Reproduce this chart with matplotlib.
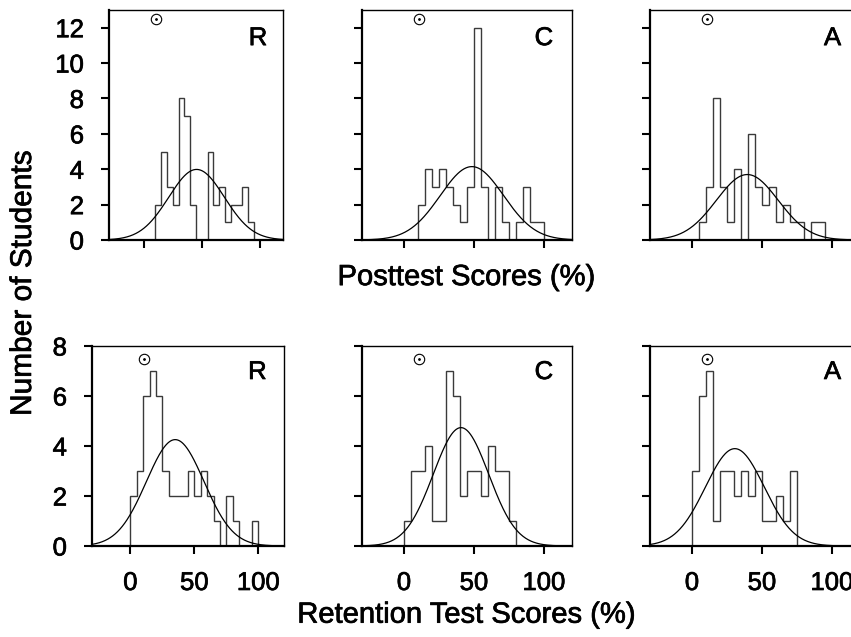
import numpy as np
import matplotlib
matplotlib.use("Agg")
import matplotlib.pyplot as plt
import matplotlib.patheffects as pe

plt.rcParams['font.family'] = ['Liberation Sans', 'DejaVu Sans']

# bin width of the score histograms (percent)
BIN_W = 5
groups = ['R', 'C', 'A']

# posttest scores: first bin edge and counts per 5% bin
post_start = [10, 10, 5]
post_counts = [
    [2, 5, 3, 2, 8, 7, 2, 0, 0, 5, 2, 3, 1, 2, 2, 3, 1],
    [2, 4, 3, 4, 3, 2, 1, 3, 12, 3, 0, 3, 1, 0, 1, 3, 1, 1],
    [1, 3, 8, 3, 1, 4, 0, 6, 3, 2, 3, 1, 2, 1, 1, 0, 1, 1],
]
post_mean = [45.5, 48.5, 39.5]
post_sd = [24.0, 22.6, 22.1]

# retention test scores
ret_start = [0, 0, 0]
ret_counts = [
    [2, 3, 6, 7, 6, 3, 2, 2, 2, 3, 2, 3, 2, 1, 0, 2, 1, 0, 0, 1],
    [1, 3, 3, 4, 1, 1, 7, 6, 2, 3, 3, 2, 4, 3, 3, 1],
    [3, 6, 7, 1, 3, 3, 2, 3, 2, 3, 1, 1, 2, 1, 3],
]
ret_mean = [35.0, 40.7, 30.6]
ret_sd = [22.5, 19.8, 21.0]

W, H = 851, 637
fig = plt.figure(figsize=(W / 100, H / 100), dpi=100)

# slightly heavier text strokes
heavy = [pe.withStroke(linewidth=0.5, foreground='black')]


def px_axes(x0, y0, w, h):
    return fig.add_axes([x0 / W, 1 - (y0 + h) / H, w / W, h / H])


top_boxes = [(109, 174), (362, 210), (650, 210)]
bot_boxes = [(92, 192), (362, 210), (650, 210)]


def draw_panel(ax, counts, start, mean, sd, letter, ymax, yticks, marker_y,
               show_ylabels, show_xlabels):
    counts = np.array(counts)
    edges = start + BIN_W * np.arange(len(counts) + 1)
    ax.stairs(counts, edges, baseline=0, fill=False, color='#3a3a3a', lw=1.0)
    xs = np.linspace(-30, 120, 400)
    n = counts.sum()
    ys = n * BIN_W / (sd * np.sqrt(2 * np.pi)) * np.exp(-0.5 * ((xs - mean) / sd) ** 2)
    ax.plot(xs, ys, color='black', lw=0.9)
    # small dotted-circle marker near the top
    ax.plot(10.5, marker_y, marker='o', ms=7.5, mfc='none', mec='black', mew=0.8)
    ax.plot(10.5, marker_y, marker='o', ms=1.0, color='black')
    ax.set_xlim(-30, 120)
    ax.set_ylim(0, ymax)
    ax.set_xticks([0, 50, 100])
    ax.set_yticks(yticks)
    ax.tick_params(direction='out', length=6, width=1.5, labelsize=18.5, pad=12)
    if not show_ylabels:
        ax.set_yticklabels([])
    if not show_xlabels:
        ax.set_xticklabels([])
    for lab in ax.get_xticklabels() + ax.get_yticklabels():
        lab.set_path_effects(heavy)
    for side in ['left', 'bottom']:
        ax.spines[side].set_linewidth(1.6)
    for side in ['top', 'right']:
        ax.spines[side].set_linewidth(1.0)
    ax.text(0.91, 0.93, letter, transform=ax.transAxes, ha='right', va='top',
            fontsize=18.5, path_effects=heavy)


for i, g in enumerate(groups):
    x0, w = top_boxes[i]
    ax = px_axes(x0, 10, w, 230)
    draw_panel(ax, post_counts[i], post_start[i], post_mean[i], post_sd[i], g,
               13, [0, 2, 4, 6, 8, 10, 12], 12.5, i == 0, False)

for i, g in enumerate(groups):
    x0, w = bot_boxes[i]
    ax = px_axes(x0, 346, w, 200)
    draw_panel(ax, ret_counts[i], ret_start[i], ret_mean[i], ret_sd[i], g,
               8, [0, 2, 4, 6, 8], 7.5, i == 0, True)

fig.text(0.548, 0.565, 'Posttest Scores (%)', ha='center', va='center',
         fontsize=21, path_effects=heavy)
fig.text(0.548, 0.035, 'Retention Test Scores (%)', ha='center', va='center',
         fontsize=21, path_effects=heavy)
fig.text(0.027, 0.556, 'Number of Students', ha='center', va='center',
         rotation=90, fontsize=21.5, path_effects=heavy)

fig.savefig('out.png', dpi=100)
